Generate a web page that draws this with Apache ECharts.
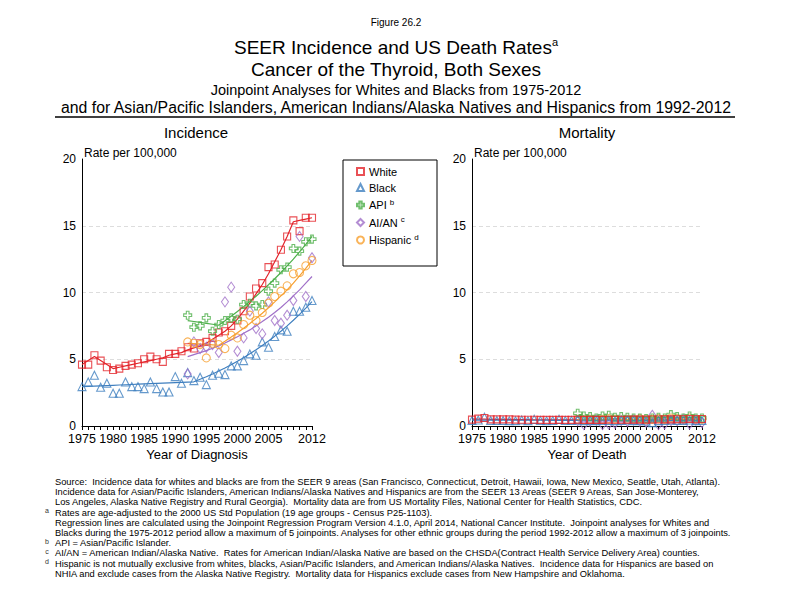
<!DOCTYPE html>
<html><head><meta charset="utf-8">
<script src="https://cdn.jsdelivr.net/npm/echarts@6/dist/echarts.min.js"></script>
<style>html,body{margin:0;padding:0;background:#fff}#c{width:792px;height:612px}</style>
</head><body><div id="c"></div>
<script>
const yearsLong = [1975,1976,1977,1978,1979,1980,1981,1982,1983,1984,1985,1986,1987,1988,1989,1990,1991,1992,1993,1994,1995,1996,1997,1998,1999,2000,2001,2002,2003,2004,2005,2006,2007,2008,2009,2010,2011,2012];
const yearsShort = [1992,1993,1994,1995,1996,1997,1998,1999,2000,2001,2002,2003,2004,2005,2006,2007,2008,2009,2010,2011,2012];
const xTickLabels = [1975,1980,1985,1990,1995,2000,2005,2012];
const seriesNames = ['White','Black','API','AI/AN','Hispanic'];

// Incidence observed
const incWhite = [4.6,4.6,5.3,4.9,4.4,4.2,4.3,4.5,4.6,4.7,5.0,5.2,5.0,4.8,5.4,5.4,5.6,5.9,5.8,6.2,6.3,6.6,7.0,7.1,7.5,7.9,8.6,9.7,10.3,10.7,11.9,12.1,13.2,14.2,15.4,14.6,15.6,15.6];
const incBlack = [2.95,3.3,3.8,2.9,3.2,2.45,2.45,3.3,2.95,2.95,2.8,3.3,2.8,2.55,2.55,3.7,3.2,4.0,3.4,3.65,3.1,3.8,3.95,3.85,4.5,4.5,4.9,5.4,5.3,6.3,5.9,6.7,7.2,7.1,8.6,8.6,8.9,9.4];
const incAPI = [8.3,7.4,7.5,8.1,7.1,7.6,7.9,8.1,8.0,9.1,9.2,9.0,9.1,10.1,10.7,11.7,11.9,13.3,13.1,13.8,14.0];
const incAIAN = [3.9,6.3,5.8,5.9,6.1,5.5,9.3,10.4,5.6,6.6,8.6,7.3,6.9,9.3,7.9,7.7,8.3,9.4,14.2,9.7,12.6];
const incHisp = [6.3,6.2,6.1,5.1,6.2,6.1,5.8,6.8,6.6,7.6,8.3,7.9,8.5,9.2,9.7,10.1,10.5,11.4,11.5,12.0,12.4];
// Incidence joinpoint fits
const fitIncWhite = [4.6,4.9,5.2,4.9,4.6,4.3,4.4,4.5,4.6,4.7,4.8,4.9,5.0,5.1,5.3,5.4,5.5,5.7,5.85,6.0,6.2,6.5,6.8,7.1,7.5,8.0,8.6,9.2,9.9,10.6,11.4,12.3,13.2,14.2,15.3,15.4,15.5,15.6];
const fitIncBlack = [2.95,2.97,2.99,3.01,3.03,3.05,3.07,3.09,3.11,3.13,3.15,3.17,3.19,3.21,3.23,3.25,3.27,3.29,3.31,3.5,3.69,3.9,4.12,4.35,4.59,4.85,5.12,5.41,5.71,6.03,6.37,6.73,7.1,7.5,7.92,8.36,8.83,9.32];
const fitIncAPI = [7.9,7.83,7.76,7.69,7.62,7.55,7.88,8.22,8.57,8.94,9.32,9.72,10.14,10.58,11.03,11.5,12.0,12.5,13.05,13.6,14.2];
const fitIncAIAN = [5.2,5.35,5.5,5.65,5.82,6.0,6.22,6.45,6.69,6.94,7.2,7.5,7.82,8.15,8.5,8.88,9.3,9.75,10.2,10.7,11.2];
const fitIncHisp = [6.2,6.17,6.14,6.11,6.08,6.05,6.35,6.66,6.98,7.32,7.68,8.05,8.45,8.86,9.3,9.75,10.2,10.7,11.25,11.8,12.4];
// Mortality observed
const morWhite = [0.48,0.55,0.6,0.5,0.5,0.5,0.5,0.48,0.47,0.47,0.47,0.46,0.46,0.46,0.46,0.46,0.46,0.47,0.46,0.46,0.46,0.46,0.47,0.47,0.47,0.47,0.48,0.48,0.48,0.49,0.49,0.5,0.5,0.51,0.51,0.52,0.51,0.52];
const morBlack = [0.42,0.45,0.65,0.42,0.42,0.42,0.4,0.4,0.45,0.4,0.5,0.42,0.4,0.42,0.5,0.42,0.42,0.45,0.4,0.42,0.4,0.42,0.42,0.4,0.42,0.45,0.4,0.42,0.38,0.25,0.4,0.42,0.45,0.42,0.42,0.45,0.4,0.42];
const morAPI = [0.95,0.75,0.7,0.6,0.75,0.8,0.65,0.7,0.65,0.6,0.6,0.55,0.6,0.65,0.6,0.85,0.7,0.6,0.75,0.6,0.6];
const morAIAN = [0.4,0.1,0.35,0.45,0.1,0.15,0.2,0.4,0.35,0.45,0.35,0.3,0.8,0.1,0.15,0.4,0.4,0.5,0.15,0.45,0.25];
const morHisp = [0.5,0.45,0.5,0.45,0.5,0.55,0.5,0.45,0.5,0.5,0.55,0.45,0.5,0.55,0.5,0.6,0.55,0.5,0.6,0.5,0.5];
// Mortality fits
const fitMorWhite = [0.52,0.51,0.51,0.5,0.5,0.49,0.49,0.48,0.48,0.48,0.47,0.47,0.47,0.47,0.46,0.46,0.46,0.46,0.46,0.46,0.46,0.46,0.47,0.47,0.47,0.47,0.48,0.48,0.48,0.49,0.49,0.49,0.5,0.5,0.5,0.51,0.51,0.51];
const fitMorBlack = [0.44,0.44,0.44,0.44,0.43,0.43,0.43,0.43,0.43,0.43,0.43,0.43,0.43,0.42,0.42,0.42,0.42,0.42,0.42,0.42,0.42,0.42,0.42,0.41,0.41,0.41,0.41,0.41,0.41,0.41,0.41,0.41,0.41,0.41,0.41,0.41,0.41,0.41];
const fitMorAPI = [0.78,0.76,0.75,0.74,0.73,0.72,0.71,0.7,0.69,0.68,0.67,0.66,0.66,0.65,0.65,0.65,0.65,0.65,0.65,0.64,0.64];
const fitMorAIAN = [0.3,0.3,0.3,0.3,0.3,0.3,0.3,0.31,0.31,0.31,0.31,0.31,0.31,0.32,0.32,0.32,0.32,0.32,0.32,0.32,0.32];
const fitMorHisp = [0.48,0.48,0.49,0.49,0.49,0.49,0.5,0.5,0.5,0.5,0.5,0.51,0.51,0.51,0.51,0.52,0.52,0.52,0.52,0.53,0.53];

const colors = {White:'#E3242B', Black:'#3F7FBF', API:'#4DAF4A', 'AI/AN':'#A070C8', Hispanic:'#F7A030'};
const FONT = 'Liberation Sans, Arial, Helvetica, sans-serif';
const plusPath = 'path://M3,0H6V3H9V6H6V9H3V6H0V3H3Z';
const symbols = {White:['rect',7], Black:['triangle',8], API:[plusPath,8], 'AI/AN':['diamond',[7,10]], Hispanic:['circle',8]};

function pts(xs, ys){ return xs.map((x,i)=>[x, ys[i]]); }
function scatter(name, g, xs, ys){
  return {name, type:'scatter', xAxisIndex:g, yAxisIndex:g, data:pts(xs,ys),
    symbol:symbols[name][0], symbolSize:symbols[name][1], z:3,
    itemStyle:{color:'rgba(255,255,255,0)', borderColor:colors[name], borderWidth:1.1}};
}
function fit(name, g, xs, ys){
  return {name:name+' fit', type:'line', xAxisIndex:g, yAxisIndex:g, data:pts(xs,ys),
    symbol:'none', smooth:false, z:2, lineStyle:{color:colors[name], width:1.2}, silent:true};
}

const series = [
  fit('White',0,yearsLong,fitIncWhite), fit('Black',0,yearsLong,fitIncBlack), fit('API',0,yearsShort,fitIncAPI),
  fit('AI/AN',0,yearsShort,fitIncAIAN), fit('Hispanic',0,yearsShort,fitIncHisp),
  scatter('White',0,yearsLong,incWhite), scatter('Black',0,yearsLong,incBlack), scatter('API',0,yearsShort,incAPI),
  scatter('AI/AN',0,yearsShort,incAIAN), scatter('Hispanic',0,yearsShort,incHisp),
  fit('White',1,yearsLong,fitMorWhite), fit('Black',1,yearsLong,fitMorBlack), fit('API',1,yearsShort,fitMorAPI),
  fit('AI/AN',1,yearsShort,fitMorAIAN), fit('Hispanic',1,yearsShort,fitMorHisp),
  scatter('Hispanic',1,yearsShort,morHisp), scatter('AI/AN',1,yearsShort,morAIAN), scatter('API',1,yearsShort,morAPI),
  scatter('Black',1,yearsLong,morBlack), scatter('White',1,yearsLong,morWhite)
];

function xAxis(g, title){
  return {type:'value', gridIndex:g, min:1975, max:2012, interval:1,
    axisLine:{onZero:false, lineStyle:{color:'#000', width:1}},
    axisTick:{show:true, length:4, inside:false, lineStyle:{color:'#000'}},
    axisLabel:{color:'#000', fontSize:12.5, fontFamily:FONT, margin:6, showMinLabel:true, showMaxLabel:true,
      formatter:v=> xTickLabels.indexOf(v)>=0 ? String(v) : ''},
    splitLine:{show:false},
    name:title, nameLocation:'middle', nameGap:22, nameTextStyle:{color:'#000', fontSize:13, fontFamily:FONT}};
}
function yAxis(g){
  return {type:'value', gridIndex:g, min:0, max:20, interval:5,
    axisLine:{show:true, lineStyle:{color:'#000', width:1}}, axisTick:{show:false},
    axisLabel:{color:'#000', fontSize:12, fontFamily:FONT, margin:6},
    splitLine:{show:true, showMinLine:false, showMaxLine:false, lineStyle:{color:'#dddddd', type:[4,3], width:1}}};
}

const footLines = [
  ['', 'Source:  Incidence data for whites and blacks are from the SEER 9 areas (San Francisco, Connecticut, Detroit, Hawaii, Iowa, New Mexico, Seattle, Utah, Atlanta).'],
  ['', 'Incidence data for Asian/Pacific Islanders, American Indians/Alaska Natives and Hispanics are from the SEER 13 Areas (SEER 9 Areas, San Jose-Monterey,'],
  ['', 'Los Angeles, Alaska Native Registry and Rural Georgia).  Mortality data are from US Mortality Files, National Center for Health Statistics, CDC.'],
  ['a', 'Rates are age-adjusted to the 2000 US Std Population (19 age groups - Census P25-1103).'],
  ['', 'Regression lines are calculated using the Joinpoint Regression Program Version 4.1.0, April 2014, National Cancer Institute.  Joinpoint analyses for Whites and'],
  ['', 'Blacks during the 1975-2012 period allow a maximum of 5 joinpoints. Analyses for other ethnic groups during the period 1992-2012 allow a maximum of 3 joinpoints.'],
  ['b', 'API = Asian/Pacific Islander.'],
  ['c', 'AI/AN = American Indian/Alaska Native.  Rates for American Indian/Alaska Native are based on the CHSDA(Contract Health Service Delivery Area) counties.'],
  ['d', 'Hispanic is not mutually exclusive from whites, blacks, Asian/Pacific Islanders, and American Indians/Alaska Natives.  Incidence data for Hispanics are based on'],
  ['', 'NHIA and exclude cases from the Alaska Native Registry.  Mortality data for Hispanics exclude cases from New Hampshire and Oklahoma.']
];

const graphics = [
  {type:'text', x:396, y:22, style:{text:'Figure 26.2', font:'10px '+FONT, fill:'#000', textAlign:'center', textVerticalAlign:'middle'}},
  {type:'text', x:396, y:47, style:{text:'{m|SEER Incidence and US Death Rates}{s|a}', textAlign:'center', textVerticalAlign:'middle',
    rich:{m:{fontSize:19, fontFamily:FONT, fill:'#000', lineHeight:22}, s:{fontSize:11, fontFamily:FONT, fill:'#000', verticalAlign:'top', lineHeight:11}}}},
  {type:'text', x:396, y:69, style:{text:'Cancer of the Thyroid, Both Sexes', font:'19px '+FONT, fill:'#000', textAlign:'center', textVerticalAlign:'middle'}},
  {type:'text', x:396, y:90, style:{text:'Joinpoint Analyses for Whites and Blacks from 1975-2012', font:'14.5px '+FONT, fill:'#000', textAlign:'center', textVerticalAlign:'middle'}},
  {type:'text', x:396, y:107, style:{text:'and for Asian/Pacific Islanders, American Indians/Alaska Natives and Hispanics from 1992-2012', font:'15.8px '+FONT, fill:'#000', textAlign:'center', textVerticalAlign:'middle'}},
  {type:'line', shape:{x1:55, y1:117, x2:735, y2:117}, style:{stroke:'#000', lineWidth:1.5}},
  {type:'text', x:196, y:132, style:{text:'Incidence', font:'15px '+FONT, fill:'#000', textAlign:'center', textVerticalAlign:'middle'}},
  {type:'text', x:587, y:132, style:{text:'Mortality', font:'15px '+FONT, fill:'#000', textAlign:'center', textVerticalAlign:'middle'}},
  {type:'text', x:84, y:153, style:{text:'Rate per 100,000', font:'12px '+FONT, fill:'#000', textAlign:'left', textVerticalAlign:'middle'}},
  {type:'text', x:474, y:153, style:{text:'Rate per 100,000', font:'12px '+FONT, fill:'#000', textAlign:'left', textVerticalAlign:'middle'}},
  {type:'rect', shape:{x:343, y:160, width:94, height:106}, style:{fill:'none', stroke:'#000', lineWidth:1}}
];
footLines.forEach((l,i)=>{
  const y = 482 + i*10.2;
  if (l[0]) graphics.push({type:'text', x:47, y:y-2, style:{text:l[0], font:'7px '+FONT, fill:'#333', textAlign:'center', textVerticalAlign:'middle'}});
  graphics.push({type:'text', x:55, y:y, style:{text:l[1], font:'9.3px '+FONT, fill:'#000', textAlign:'left', textVerticalAlign:'middle'}});
});

const supMap = {API:'b', 'AI/AN':'c', Hispanic:'d'};
const chart = echarts.init(document.getElementById('c'), null, {renderer:'svg'});
chart.setOption({
  backgroundColor:'#fff',
  animation:false,
  textStyle:{fontFamily:FONT},
  grid:[{left:82, top:159, width:230, height:267}, {left:472, top:159, width:230, height:267}],
  xAxis:[xAxis(0,'Year of Diagnosis'), xAxis(1,'Year of Death')],
  yAxis:[yAxis(0), yAxis(1)],
  legend:{orient:'vertical', left:356, top:166, itemWidth:7, itemHeight:7, itemGap:5, padding:0,
    data:seriesNames,
    selectedMode:false,
    formatter:n=> supMap[n] ? '{n|'+n+'} {s|'+supMap[n]+'}' : '{n|'+n+'}',
    textStyle:{color:'#000', fontSize:11, fontFamily:FONT, padding:[0,0,0,0],
      rich:{n:{fontSize:11, fontFamily:FONT, color:'#000', lineHeight:14}, s:{fontSize:8, fontFamily:FONT, color:'#000', lineHeight:8, verticalAlign:'top'}}}},
  series,
  graphic:graphics
});
</script>
</body></html>
